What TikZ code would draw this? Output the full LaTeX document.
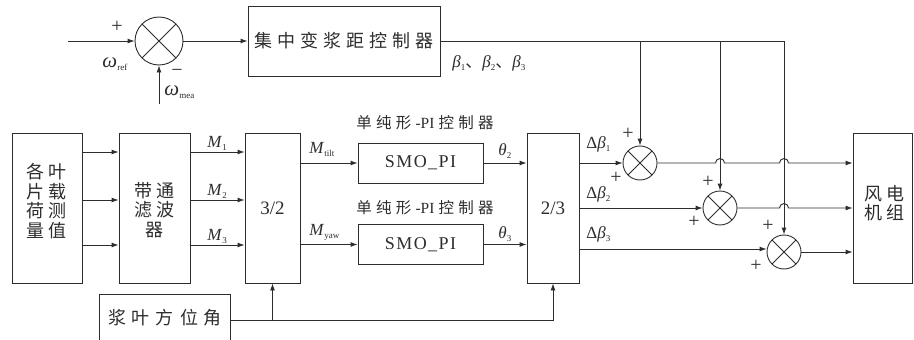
\documentclass[tikz,border=0pt]{standalone}
\usepackage{fontspec}
\setmainfont{Liberation Serif}
\newfontfamily\cjkn{Noto Sans CJK SC}
\newfontfamily\smofont[LetterSpace=8]{Liberation Serif}
\usetikzlibrary{arrows.meta,calc}
\definecolor{ink}{RGB}{45,45,45}
\newlength\cgap
\newcommand\gp{\hspace{\cgap}}
\newcommand\sublbl[1]{\raisebox{-3pt}{\fontsize{9}{10}\selectfont\upshape #1}}
\newcommand\bigomega{{\fontsize{21}{21}\selectfont\textit{ω}}}
\begin{document}
\begin{tikzpicture}[x=1pt,y=-1pt,line width=0.9pt,color=ink,
  box/.style={draw=ink,inner sep=0pt,align=center},
  sumnode/.style={draw=ink,circle,inner sep=0pt,
    path picture={\draw[ink,line width=0.9pt]
      (path picture bounding box.north west)--(path picture bounding box.south east)
      (path picture bounding box.north east)--(path picture bounding box.south west);}},
  arr/.style={-{Latex[length=7pt,width=5pt]}},
  lbl/.style={inner sep=0pt,font=\fontsize{17}{20}\selectfont},
  pm/.style={inner sep=0pt,font=\fontsize{20}{20}\selectfont},
  cn/.style={inner sep=0pt,align=center,font=\cjkn\fontsize{18}{19.5}\selectfont\setlength\cgap{4pt}}]
\useasboundingbox (0,0) rectangle (914,340);

% top loop
\node[sumnode,minimum size=48pt] (s0) at (159,41) {};
\coordinate (wref) at (68,41);
\coordinate (wmea) at (159,104);
\draw[arr] (wref) -- (s0);
\draw[arr] (wmea) -- (s0);
\node[pm] (pref) at (117,27) {+};
\node[pm] (pmea) at (177,73) {\textminus};
\node[lbl,anchor=base west] (lref) at (102,67) {\bigomega\sublbl{ref}};
\node[lbl,anchor=base west] (lmea) at (164,95) {\bigomega\sublbl{mea}};
\node[box,minimum width=192pt,minimum height=70pt,font=\cjkn\fontsize{18}{20}\selectfont\setlength\cgap{5pt}] (ctrl) at (344,41) {集\gp 中\gp 变\gp 浆\gp 距\gp 控\gp 制\gp 器};
\draw[arr] (s0) -- (ctrl);
\node[lbl,anchor=base west] (lbeta) at (452,67) {\textit{β}\sublbl{1}{\cjkn 、}\textit{β}\sublbl{2}{\cjkn 、}\textit{β}\sublbl{3}};

% main row
\node[box,minimum width=70pt,minimum height=150pt] (load) at (47,208) {};
\node[cn] (loadtxt) at (47,201) {各\gp 叶\\片\gp 载\\荷\gp 测\\量\gp 值};
\node[box,minimum width=71pt,minimum height=150pt] (bpf) at (154.5,208) {};
\node[cn] (bpftxt) at (154.5,210) {带\gp 通\\滤\gp 波\\器};
\node[box,minimum width=55pt,minimum height=150pt,font=\fontsize{19}{20}\selectfont] (t32) at (272.5,208) {3/2};
\node[box,minimum width=125pt,minimum height=40pt,font=\smofont\fontsize{18}{20}\selectfont] (pi1) at (420.5,163) {SMO\_PI};
\node[box,minimum width=125pt,minimum height=40pt,font=\smofont\fontsize{18}{20}\selectfont] (pi2) at (420.5,244.5) {SMO\_PI};
\node[box,minimum width=52pt,minimum height=150pt,font=\fontsize{19}{20}\selectfont] (t23) at (553,208) {2/3};
\node[sumnode,minimum size=34pt] (c1) at (640,163) {};
\node[sumnode,minimum size=34pt] (c2) at (720,208) {};
\node[sumnode,minimum size=34pt] (c3) at (784,252) {};
\node[box,minimum width=59pt,minimum height=150pt] (wt) at (882.5,208) {};
\node[cn] (wttxt) at (884,203) {风\gp 电\\机\gp 组};
\node[inner sep=0pt,minimum width=130pt,minimum height=45pt,font=\cjkn\fontsize{18}{20}\selectfont\setlength\cgap{6pt}] (az) at (165,317.5) {浆\gp 叶\gp 方\gp 位\gp 角};
\draw (az.south west) -- (az.north west) -- (az.north east) -- (az.south east);

\node[font=\cjkn\fontsize{15.5}{18}\selectfont\setlength\cgap{4.2pt},inner sep=0pt] (pil1) at (425,123) {单\gp 纯\gp 形\gp\textrm{-PI}\gp 控\gp 制\gp 器};
\node[font=\cjkn\fontsize{15.5}{18}\selectfont\setlength\cgap{4.2pt},inner sep=0pt] (pil2) at (425,208) {单\gp 纯\gp 形\gp\textrm{-PI}\gp 控\gp 制\gp 器};

% load -> bpf -> 3/2
\foreach \s in {56,8,-37} {
  \draw[arr] ([yshift=\s pt]load.east) -- ([yshift=\s pt]bpf.west);
  \draw[arr] ([yshift=\s pt]bpf.east) -- ([yshift=\s pt]t32.west);
}
\node[lbl,anchor=base west] (m1) at (207,147) {\textit{M}\sublbl{1}};
\node[lbl,anchor=base west] (m2) at (207,195) {\textit{M}\sublbl{2}};
\node[lbl,anchor=base west] (m3) at (207,240) {\textit{M}\sublbl{3}};

% 3/2 -> PI -> 2/3
\draw[arr] (t32.east |- pi1) -- (pi1);
\draw[arr] (t32.east |- pi2) -- (pi2);
\node[lbl,anchor=base west] (mt) at (309,153) {\textit{M}\sublbl{tilt}};
\node[lbl,anchor=base west] (my) at (309,235) {\textit{M}\sublbl{yaw}};
\draw[arr] (pi1) -- (t23.west |- pi1);
\draw[arr] (pi2) -- (t23.west |- pi2);
\node[lbl,anchor=base west] (th2) at (498,155) {\textit{θ}\sublbl{2}};
\node[lbl,anchor=base west] (th3) at (498,238) {\textit{θ}\sublbl{3}};

% 2/3 -> sums
\draw[arr] (t23.east |- c1) -- (c1);
\draw[arr] (t23.east |- c2) -- (c2);
\draw[arr] ([yshift=3pt]t23.east |- c3) -- ([yshift=3pt]c3.west);
\node[lbl,anchor=base west] (db1) at (586,148) {Δ\textit{β}\sublbl{1}};
\node[lbl,anchor=base west] (db2) at (586,198) {Δ\textit{β}\sublbl{2}};
\node[lbl,anchor=base west] (db3) at (586,238) {Δ\textit{β}\sublbl{3}};

% collective pitch to sums
\coordinate (bend) at (c3 |- ctrl.east);
\draw (ctrl.east) -- (bend);
\draw[arr] (bend) -- (c3.north);
\draw[arr] (ctrl.east -| c1) -- (c1.north);
\draw[arr] (ctrl.east -| c2) -- (c2.north);

% sums -> wind turbine (with hops)
\draw[arr] (c1.east) -- ($(c2.center |- c1.east)+(-4.5pt,0)$)
  arc[start angle=180,end angle=0,radius=4.5pt]
  -- ($(c3.center |- c1.east)+(-4.5pt,0)$)
  arc[start angle=180,end angle=0,radius=4.5pt]
  -- (wt.west |- c1.east);
\draw[arr] (c2.east) -- ($(c3.center |- c2.east)+(-4.5pt,0)$)
  arc[start angle=180,end angle=0,radius=4.5pt]
  -- (wt.west |- c2.east);
\draw[arr] (c3.east) -- (wt.west |- c3.east);

% plus signs
\node[pm] (p1a) at (628,134) {+};
\node[pm] (p1b) at (616,178) {+};
\node[pm] (p2a) at (708,182) {+};
\node[pm] (p2b) at (694,222) {+};
\node[pm] (p3a) at (768,226) {+};
\node[pm] (p3b) at (756,266) {+};

% azimuth
\coordinate (azo) at ([yshift=-2.5pt]az.east);
\draw[arr] (azo) -| (t23.south);
\draw[arr] (t32.south |- azo) -- (t32.south);
\end{tikzpicture}
\end{document}
